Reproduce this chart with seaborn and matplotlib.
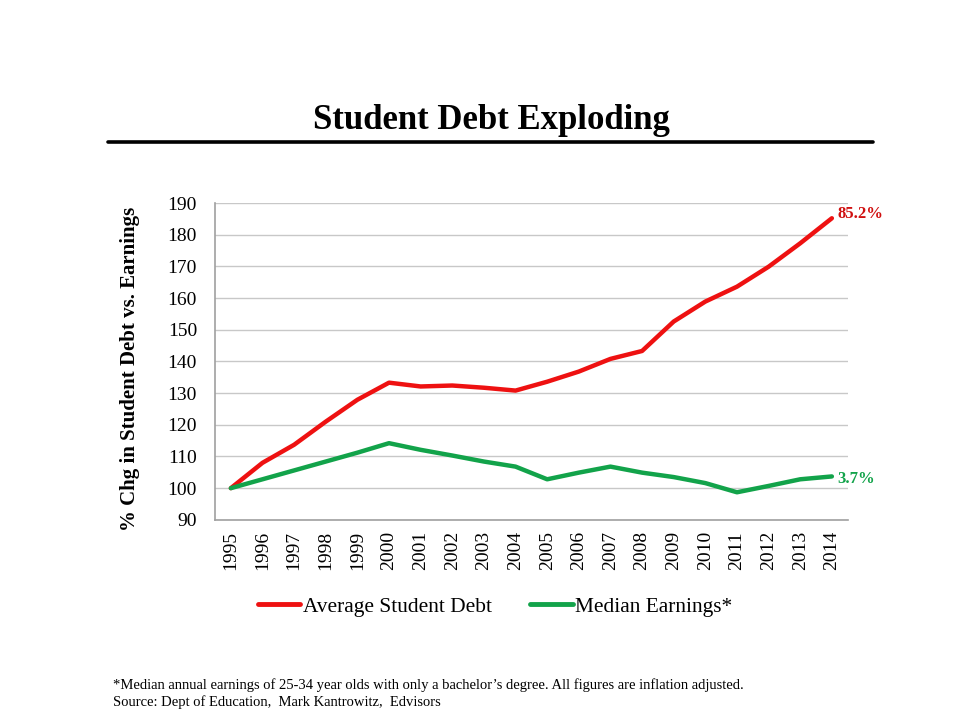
import matplotlib
matplotlib.use("Agg")
import matplotlib.pyplot as plt
import seaborn as sns
import pandas as pd
from matplotlib.lines import Line2D

years = [str(y) for y in range(1995, 2015)]
student_debt = [100, 108, 113.7, 121, 127.9, 133.3, 132.1, 132.4, 131.7, 130.8,
                133.6, 136.8, 140.8, 143.3, 152.6, 158.9, 163.6, 169.9, 177.3, 185.2]
median_earnings = [100, 102.8, 105.6, 108.4, 111.2, 114.2, 112.1, 110.3, 108.4, 106.8,
                   102.8, 104.9, 106.8, 104.9, 103.5, 101.6, 98.7, 100.7, 102.8, 103.7]
series_names = ["Average Student Debt", "Median Earnings*"]
end_labels = ["85.2%", "3.7%"]
y_ticks = list(range(90, 191, 10))

RED = "#EE1111"
GREEN = "#12A34A"

df = pd.DataFrame({
    "Year": years * 2,
    "Value": student_debt + median_earnings,
    "Series": [series_names[0]] * len(years) + [series_names[1]] * len(years),
})

sns.set_theme(style="white")
plt.rcParams["font.family"] = ["Liberation Serif", "DejaVu Serif"]
plt.rcParams["text.color"] = "black"
plt.rcParams["axes.labelcolor"] = "black"
plt.rcParams["xtick.color"] = "black"
plt.rcParams["ytick.color"] = "black"

fig = plt.figure(figsize=(9.6, 7.2), dpi=100)
ax = fig.add_axes([0.224, 0.278, 0.659, 0.440])

sns.lineplot(data=df, x="Year", y="Value", hue="Series",
             palette=[RED, GREEN], linewidth=3.2, ax=ax, legend=False, sort=False)

ax.set_xlim(-0.5, len(years) - 0.5)
ax.set_ylim(90, 190)
ax.set_yticks(y_ticks)
ax.set_yticklabels([str(t) for t in y_ticks], fontsize=14)
ax.set_xticks(range(len(years)))
ax.set_xticklabels(years, rotation=90, fontsize=14)
ax.tick_params(axis="y", length=0, pad=13)
ax.tick_params(axis="x", length=0, pad=8)
ax.grid(axis="y", color="#C8C8C8", linewidth=1.0)
ax.set_axisbelow(True)
for s in ["top", "right"]:
    ax.spines[s].set_visible(False)
for s in ["left", "bottom"]:
    ax.spines[s].set_color("#A0A0A0")
    ax.spines[s].set_linewidth(1.2)
ax.set_xlabel("")
ax.set_ylabel("% Chg in Student Debt vs. Earnings", fontsize=15, fontweight="bold")
ax.yaxis.set_label_coords(-0.118, 0.476)

# end labels
ax.annotate(end_labels[0], xy=(len(years) - 1, student_debt[-1]), xytext=(4, 3),
            textcoords="offset points", color="#D01010", fontsize=12, fontweight="bold",
            va="center", ha="left", annotation_clip=False)
ax.annotate(end_labels[1], xy=(len(years) - 1, median_earnings[-1]), xytext=(4, -2),
            textcoords="offset points", color=GREEN, fontsize=12, fontweight="bold",
            va="center", ha="left", annotation_clip=False)

# title and rule
fig.text(0.512, 0.832, "Student Debt Exploding", ha="center", va="center",
         fontsize=25, fontweight="bold")
fig.add_artist(Line2D([0.1125, 0.909], [0.803, 0.803], color="black", linewidth=2.6,
                      transform=fig.transFigure))

# legend
handles = [Line2D([], [], color=RED, linewidth=3.5, solid_capstyle="round"),
           Line2D([], [], color=GREEN, linewidth=3.5, solid_capstyle="round")]
fig.legend(handles, series_names, loc="center", bbox_to_anchor=(0.5155, 0.157), ncol=2,
           frameon=False, fontsize=15.4, handlelength=2.0, handletextpad=0.1,
           columnspacing=1.8)

# footnotes
fig.text(0.118, 0.049, "*Median annual earnings of 25-34 year olds with only a bachelor\u2019s degree. All figures are inflation adjusted.",
         fontsize=10.5, ha="left", va="center")
fig.text(0.118, 0.025, "Source: Dept of Education,  Mark Kantrowitz,  Edvisors",
         fontsize=10.5, ha="left", va="center")

fig.savefig("out.png", dpi=100, facecolor="white")
